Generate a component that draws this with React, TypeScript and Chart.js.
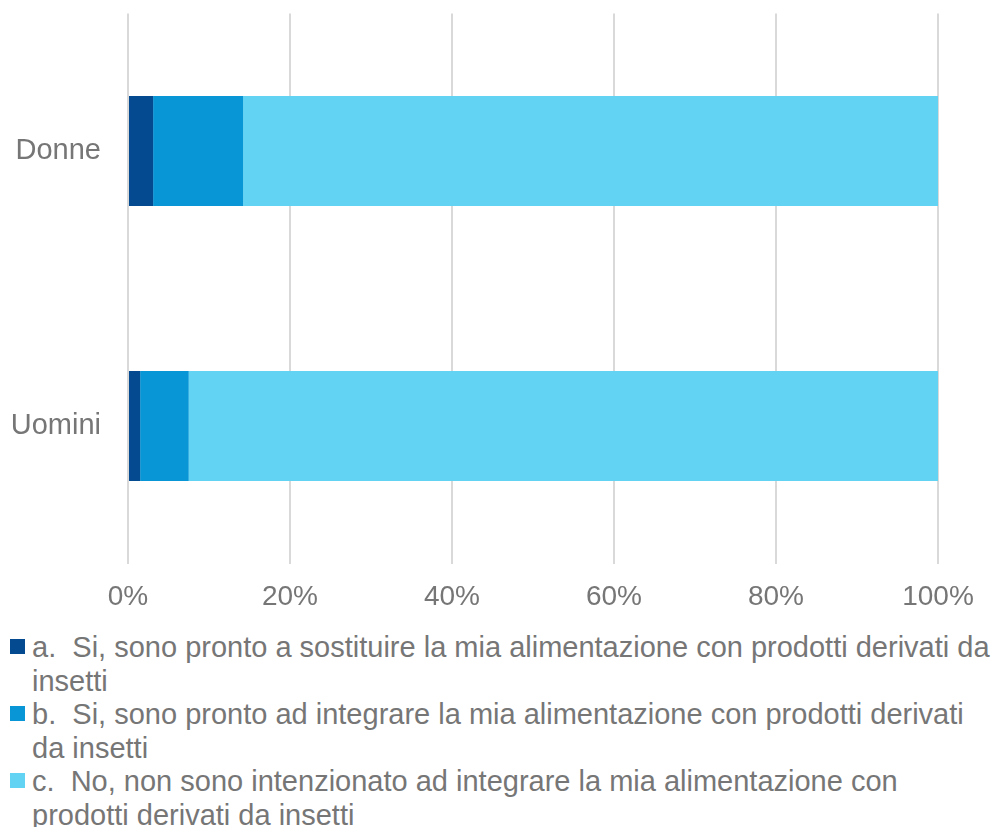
import React, { useEffect, useRef } from "react";
import { Chart, registerables } from "chart.js";

Chart.register(...registerables);

const categories = ["Donne", "Uomini"];
const seriesA = [3.1, 1.5];
const seriesB = [11.1, 6.0];
const seriesC = [85.8, 92.5];
const xTicks = [0, 20, 40, 60, 80, 100];

const seriesNames = [
  "a.  Si, sono pronto a sostituire la mia alimentazione con prodotti derivati da insetti",
  "b.  Si, sono pronto ad integrare la mia alimentazione con prodotti derivati da insetti",
  "c.  No, non sono intenzionato ad integrare la mia alimentazione con prodotti derivati da insetti",
];
const legendLines = [
  ["a.  Si, sono pronto a sostituire la mia alimentazione con prodotti derivati da", "insetti"],
  ["b.  Si, sono pronto ad integrare la mia alimentazione con prodotti derivati", "da insetti"],
  ["c.  No, non sono intenzionato ad integrare la mia alimentazione con", "prodotti derivati da insetti"],
];
const colors = ["#034A90", "#0896D7", "#63D3F3"];

const TEXT = "#767676";
const FONT = "'Liberation Sans', Arial, sans-serif";

export default function App() {
  const ref = useRef<HTMLCanvasElement | null>(null);

  useEffect(() => {
    document.body.style.margin = "0";
    const ctx = ref.current!;
    const data = [seriesA, seriesB, seriesC];
    const chart = new Chart(ctx, {
      type: "bar",
      data: {
        labels: categories,
        datasets: data.map((d, i) => ({
          label: seriesNames[i],
          data: d,
          backgroundColor: colors[i],
          borderWidth: 0,
          barPercentage: 0.4,
          categoryPercentage: 1,
        })),
      },
      options: {
        indexAxis: "y",
        animation: false,
        responsive: false,
        maintainAspectRatio: false,
        layout: { padding: { top: 13.5, right: 58, bottom: 2, left: 0 } },
        plugins: { legend: { display: false }, tooltip: { enabled: false } },
        scales: {
          x: {
            stacked: true,
            min: 0,
            max: 100,
            afterBuildTicks: (s: any) => {
              s.ticks = xTicks.map((v) => ({ value: v }));
            },
            afterFit: (s: any) => {
              s.height = 50.5;
              s.paddingLeft = 0;
              s.paddingRight = 0;
              s.paddingTop = 0;
              s.paddingBottom = 0;
            },
            ticks: {
              callback: (v: any) => v + "%",
              color: TEXT,
              font: { family: FONT, size: 28 },
              padding: 17,
              maxRotation: 0,
            },
            grid: { color: "#D9D9D9", lineWidth: 2, drawTicks: false },
            border: { display: false },
          },
          y: {
            stacked: true,
            afterFit: (s: any) => {
              s.width = 128;
              s.paddingTop = 0;
              s.paddingBottom = 0;
            },
            ticks: {
              color: TEXT,
              font: { family: FONT, size: 29 },
              padding: 27,
            },
            grid: { display: false, drawTicks: false },
            border: { display: false },
          },
        },
      },
    });
    return () => chart.destroy();
  }, []);

  return (
    <div style={{ width: 996, fontFamily: FONT }}>
      <canvas ref={ref} width={996} height={616} style={{ display: "block" }} />
      <div style={{ marginTop: 15 }}>
        {legendLines.map((lines, i) => (
          <div key={i} style={{ position: "relative", paddingLeft: 32 }}>
            <span
              style={{
                position: "absolute",
                left: 10,
                top: 8,
                width: 15,
                height: 15,
                background: colors[i],
              }}
            />
            {lines.map((t, j) => (
              <div
                key={j}
                style={{
                  whiteSpace: "pre",
                  fontSize: 29,
                  lineHeight: "33.5px",
                  height: 33.5,
                  color: TEXT,
                }}
              >
                {t}
              </div>
            ))}
          </div>
        ))}
      </div>
    </div>
  );
}
